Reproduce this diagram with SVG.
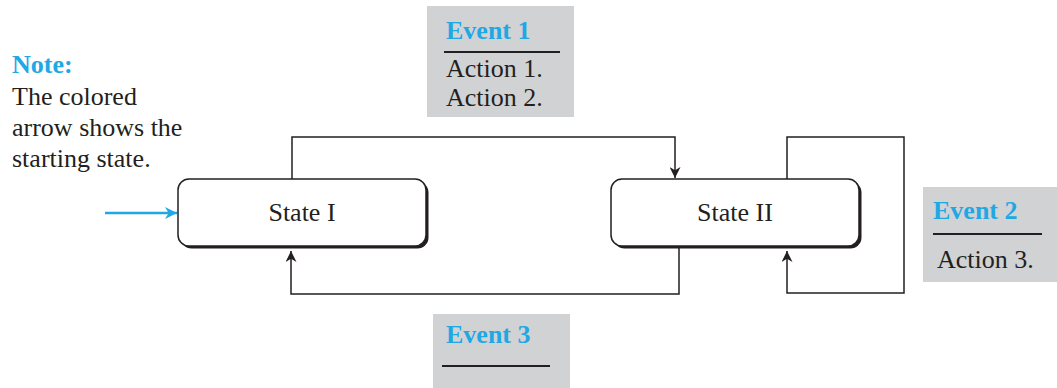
<svg xmlns="http://www.w3.org/2000/svg" width="1057" height="388" viewBox="0 0 1057 388">
  <style>
    .serif { font-family: "Liberation Serif", "Times New Roman", serif; font-size: 26px; fill: #231f20; }
    .event { font-family: "Liberation Serif", "Times New Roman", serif; font-size: 26px; font-weight: bold; fill: #1fa8e4; }
    .panel { fill: #d1d2d4; }
    .rule { stroke: #231f20; stroke-width: 2; }
    .state { fill: #ffffff; stroke: #231f20; stroke-width: 1.5; }
    .shadow { fill: #231f20; }
    .wire { fill: none; stroke: #231f20; stroke-width: 1.5; }
  </style>
  <defs>
    <marker id="head" viewBox="0 0 10 10" refX="10" refY="5" markerWidth="11" markerHeight="11" markerUnits="userSpaceOnUse" orient="auto">
      <path d="M0,0 L10,5 L0,10 L3,5 Z" fill="#231f20"/>
    </marker>
    <marker id="headBlue" viewBox="0 0 10 10" refX="10" refY="5" markerWidth="12" markerHeight="12" markerUnits="userSpaceOnUse" orient="auto">
      <path d="M0,0 L10,5 L0,10 L3,5 Z" fill="#1fa8e4"/>
    </marker>
  </defs>

  <rect width="1057" height="388" fill="#ffffff"/>

  <!-- note -->
  <g id="note">
    <text x="12" y="73" class="event">Note:</text>
    <text x="12" y="105" class="serif">The colored</text>
    <text x="12" y="136" class="serif">arrow shows the</text>
    <text x="12" y="167" class="serif">starting state.</text>
  </g>

  <!-- transition labels -->
  <g id="event1">
    <rect x="427" y="6" width="147" height="111" class="panel"/>
    <text x="446" y="39" class="event">Event 1</text>
    <line x1="444" y1="52" x2="560" y2="52" class="rule"/>
    <text x="446" y="77" class="serif">Action 1.</text>
    <text x="446" y="106" class="serif">Action 2.</text>
  </g>

  <g id="event2">
    <rect x="923" y="187" width="134" height="95" class="panel"/>
    <text x="933" y="219" class="event">Event 2</text>
    <line x1="933" y1="234" x2="1042" y2="234" class="rule"/>
    <text x="937" y="268" class="serif">Action 3.</text>
  </g>

  <g id="event3">
    <rect x="433" y="314" width="137" height="74" class="panel"/>
    <text x="446" y="343" class="event">Event 3</text>
    <line x1="442" y1="366" x2="550" y2="366" class="rule"/>
  </g>

  <!-- connectors -->
  <g id="connectors">
    <line x1="105" y1="213" x2="177" y2="213" stroke="#1fa8e4" stroke-width="2.5" marker-end="url(#headBlue)"/>
    <polyline points="292,179 292,137 675,137 675,178" class="wire" marker-end="url(#head)"/>
    <polyline points="679,248 679,294 291,294 291,251" class="wire" marker-end="url(#head)"/>
    <polyline points="787,179 787,137 904,137 904,293 787,293 787,251" class="wire" marker-end="url(#head)"/>
  </g>

  <!-- states -->
  <g id="state1">
    <rect x="180.5" y="181.5" width="248" height="67" rx="11" class="shadow"/>
    <rect x="178" y="179" width="248" height="67" rx="11" class="state"/>
    <text x="302" y="221" text-anchor="middle" class="serif">State I</text>
  </g>

  <g id="state2">
    <rect x="613.5" y="181.5" width="248" height="67" rx="11" class="shadow"/>
    <rect x="611" y="179" width="248" height="67" rx="11" class="state"/>
    <text x="735" y="221" text-anchor="middle" class="serif">State II</text>
  </g>
</svg>
